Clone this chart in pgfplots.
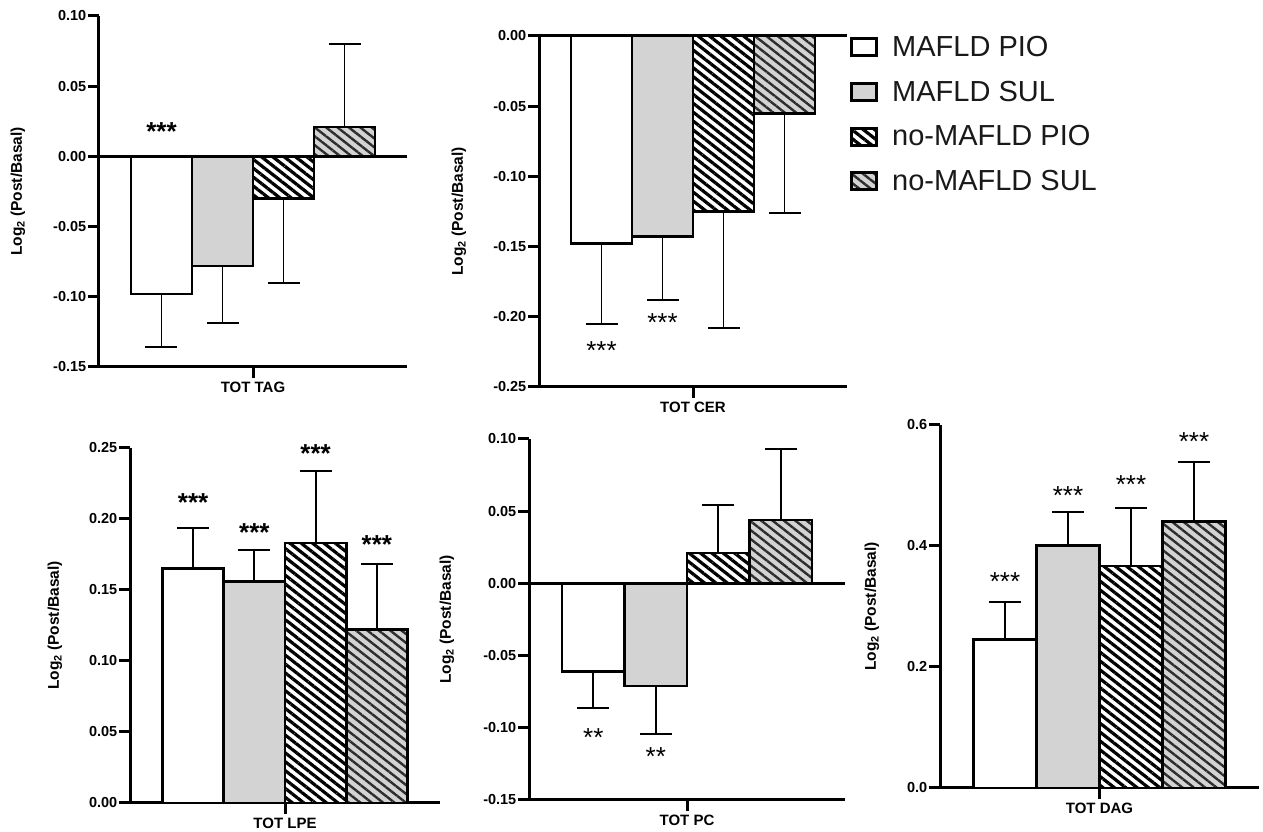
\documentclass[border=0pt]{standalone}
\usepackage{fontspec}
\setmainfont{Liberation Sans}
\usepackage{pgfplots}
\pgfplotsset{compat=1.18}
\usetikzlibrary{patterns.meta}

\definecolor{sulgray}{RGB}{211,211,211}
\definecolor{stripegray}{RGB}{45,45,45}

\tikzset{
  starb/.style={font=\fontsize{26}{30}\selectfont\bfseries, anchor=base, yshift=-15pt},
  starr/.style={font=\fontsize{26}{30}\selectfont, anchor=base, yshift=-15pt},
}

\pgfplotsset{
  bars/.style={draw=black, line width=2.7pt, fill=none},
  pio/.style={bars, preaction={fill=white}},
  sul/.style={bars, preaction={fill=sulgray}},
  npio/.style={bars, preaction={fill=white},
    preaction={pattern={Lines[angle=-38,distance=7pt,line width=3.2pt]}, pattern color=black}},
  nsul/.style={bars, preaction={fill=sulgray},
    preaction={pattern={Lines[angle=-38,distance=7pt,line width=2.4pt]}, pattern color=stripegray}},
  up/.style={error bars/.cd, y dir=plus, y explicit},
  down/.style={error bars/.cd, y dir=minus, y explicit},
  panel/.style={
    scale only axis, ybar=0pt, clip=false, anchor=south west,
    xmin=-1, xmax=1, xtick={0},
    axis x line*=bottom, axis y line*=left,
    axis line style={-, line width=3pt},
    tick align=outside, major tick length=11pt,
    tick style={line width=3pt, black},
    yticklabel style={font=\fontsize{14.5}{16}\selectfont\bfseries, inner sep=1.5pt},
    xticklabel style={font=\fontsize{15}{17}\selectfont\bfseries},
    ylabel={Log\textsubscript{2} (Post/Basal)},
    ylabel style={font=\fontsize{15.5}{17}\selectfont\bfseries, anchor=center},
    error bars/error bar style={line width=1.8pt, black},
    error bars/error mark options={rotate=90, line width=2pt, mark size=16pt, black},
  },
}

\begin{document}
\begin{tikzpicture}
\useasboundingbox (0,0) rectangle (1263pt,832pt);

% TOT TAG
\begin{axis}[panel, at={(99pt,465pt)}, width=308pt, height=351pt, bar width=61pt,
  ymin=-0.15, ymax=0.10, ytick={-0.15,-0.10,-0.05,0,0.05,0.10},
  yticklabels={-0.15,-0.10,-0.05,0.00,0.05,0.10}, xticklabels={TOT TAG},
  ylabel style={at={([xshift=-81pt]axis description cs:0,0.5)}}]
\addplot[pio, down] coordinates {(0,-0.098) +- (0,0.038)};
\addplot[sul, down] coordinates {(0,-0.078) +- (0,0.041)};
\addplot[npio, down] coordinates {(0,-0.030) +- (0,0.060)};
\addplot[nsul, up] coordinates {(0,0.021) +- (0,0.059)};
\draw[line width=3pt] (axis cs:-1,0) -- (axis cs:1,0);
\node[starb] at ([xshift=-91.5pt]axis cs:0,0.022) {***};
\end{axis}

% TOT CER (carries the legend)
\begin{axis}[panel, at={(539pt,445pt)}, width=308pt, height=351pt, bar width=61pt,
  ymin=-0.25, ymax=0, ytick={-0.25,-0.20,-0.15,-0.10,-0.05,0},
  yticklabels={-0.25,-0.20,-0.15,-0.10,-0.05,0.00}, xticklabels={TOT CER},
  ylabel style={at={([xshift=-80pt]axis description cs:0,0.5)}},
  legend style={at={(1.0,1.0115)}, anchor=north west, draw=none, fill=none,
    font=\fontsize{29}{34}\selectfont, row sep=19pt, column sep=12pt, text=black!90},
  legend cell align=left,
  legend image code/.code={\draw[#1, line width=3pt] (0pt,-8.5pt) rectangle (25pt,8.5pt);}]
\addplot[pio, down] coordinates {(0,-0.148) +- (0,0.057)};
\addlegendentry{MAFLD PIO}
\addplot[sul, down] coordinates {(0,-0.143) +- (0,0.045)};
\addlegendentry{MAFLD SUL}
\addplot[npio, down] coordinates {(0,-0.125) +- (0,0.083)};
\addlegendentry{no-MAFLD PIO}
\addplot[nsul, down] coordinates {(0,-0.055) +- (0,0.071)};
\addlegendentry{no-MAFLD SUL}
\draw[line width=3pt] (axis cs:-1,0) -- (axis cs:1,0);
\node[starr] at ([xshift=-91.5pt]axis cs:0,-0.220) {***};
\node[starr] at ([xshift=-30.5pt]axis cs:0,-0.200) {***};
\end{axis}

% TOT LPE
\begin{axis}[panel, at={(130pt,29pt)}, width=310pt, height=355pt, bar width=61.25pt,
  ymin=0, ymax=0.25, ytick={0,0.05,0.10,0.15,0.20,0.25},
  yticklabels={0.00,0.05,0.10,0.15,0.20,0.25}, xticklabels={TOT LPE},
  ylabel style={at={([xshift=-75pt]axis description cs:0,0.5)}}]
\addplot[pio, up] coordinates {(0,0.165) +- (0,0.029)};
\addplot[sul, up] coordinates {(0,0.156) +- (0,0.022)};
\addplot[npio, up] coordinates {(0,0.183) +- (0,0.051)};
\addplot[nsul, up] coordinates {(0,0.122) +- (0,0.046)};
\node[starb] at ([xshift=-91.875pt]axis cs:0,0.2155) {***};
\node[starb] at ([xshift=-30.625pt]axis cs:0,0.195) {***};
\node[starb] at ([xshift=30.625pt]axis cs:0,0.250) {***};
\node[starb] at ([xshift=91.875pt]axis cs:0,0.1866) {***};
\end{axis}

% TOT PC
\begin{axis}[panel, at={(529pt,32pt)}, width=316pt, height=361pt, bar width=62.5pt,
  ymin=-0.15, ymax=0.10, ytick={-0.15,-0.10,-0.05,0,0.05,0.10},
  yticklabels={-0.15,-0.10,-0.05,0.00,0.05,0.10}, xticklabels={TOT PC},
  ylabel style={at={([xshift=-82pt]axis description cs:0,0.5)}}]
\addplot[pio, down] coordinates {(0,-0.061) +- (0,0.025)};
\addplot[sul, down] coordinates {(0,-0.071) +- (0,0.033)};
\addplot[npio, up] coordinates {(0,0.021) +- (0,0.033)};
\addplot[nsul, up] coordinates {(0,0.044) +- (0,0.049)};
\draw[line width=3pt] (axis cs:-1,0) -- (axis cs:1,0);
\node[starr] at ([xshift=-93.75pt]axis cs:0,-0.1025) {**};
\node[starr] at ([xshift=-31.25pt]axis cs:0,-0.1157) {**};
\end{axis}

% TOT DAG
\begin{axis}[panel, at={(940pt,44pt)}, width=319pt, height=363pt, bar width=63pt,
  ymin=0, ymax=0.6, ytick={0,0.2,0.4,0.6},
  yticklabels={0.0,0.2,0.4,0.6}, xticklabels={TOT DAG},
  ylabel style={at={([xshift=-68pt]axis description cs:0,0.5)}}]
\addplot[pio, up] coordinates {(0,0.246) +- (0,0.061)};
\addplot[sul, up] coordinates {(0,0.401) +- (0,0.056)};
\addplot[npio, up] coordinates {(0,0.367) +- (0,0.096)};
\addplot[nsul, up] coordinates {(0,0.441) +- (0,0.098)};
\node[starr] at ([xshift=-94.5pt]axis cs:0,0.352) {***};
\node[starr] at ([xshift=-31.5pt]axis cs:0,0.493) {***};
\node[starr] at ([xshift=31.5pt]axis cs:0,0.512) {***};
\node[starr] at ([xshift=94.5pt]axis cs:0,0.583) {***};
\end{axis}
\end{tikzpicture}
\end{document}
